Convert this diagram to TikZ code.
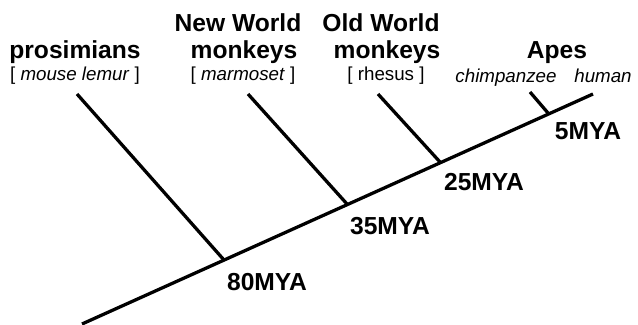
\documentclass[tikz,border=0pt]{standalone}
\usepackage{fontspec}
\setmainfont{Liberation Sans}
\usepackage{tikz}

\tikzset{
    branch/.style={draw=black, line width=2.8pt, solid, line cap=butt},
    grouplabel/.style={anchor=base, inner sep=0pt, font=\fontsize{21}{25}\selectfont\bfseries},
    specieslabel/.style={anchor=base, inner sep=0pt, font=\fontsize{16}{19}\selectfont},
    agelabel/.style={anchor=base, inner sep=0pt, font=\fontsize{21}{25}\selectfont\bfseries}
}

\begin{document}
\begin{tikzpicture}[x=0.03cm, y=-0.03cm]
        \useasboundingbox (0,0) rectangle (638,324);

        % main line and joints
        \coordinate (root) at (82,324);
        \coordinate (tiphuman) at (593,94);
        \coordinate (jprosim) at (224,260);
        \coordinate (jnew) at (347,204);
        \coordinate (jold) at (440,162);
        \coordinate (japes) at (548,113);

        % branch tips
        \coordinate (tipprosim) at (77,94);
        \coordinate (tipnew) at (248,94);
        \coordinate (tipold) at (378,94);
        \coordinate (tipchimp) at (530,92);

        \draw[branch] (root) -- (tiphuman);
        \draw[branch] (tipprosim) -- (jprosim);
        \draw[branch] (tipnew) -- (jnew);
        \draw[branch] (tipold) -- (jold);
        \draw[branch] (tipchimp) -- (japes);

        % group names
        \node[grouplabel] (prosim) at (75,58) {prosimians};
        \node[specieslabel] (lemur) at (75,80) {[ \textit{mouse lemur} ]};
        \node[grouplabel] (newA) at (238,31) {New World};
        \node[grouplabel] (newB) at (244,58) {monkeys};
        \node[specieslabel] (marmo) at (243,80) {[ \textit{marmoset} ]};
        \node[grouplabel] (oldA) at (381,31) {Old World};
        \node[grouplabel] (oldB) at (387,58) {monkeys};
        \node[specieslabel] (rhesus) at (386,80) {[ rhesus ]};
        \node[grouplabel] (apes) at (557,58) {Apes};
        \node[specieslabel] (chimp) at (506,82) {\textit{chimpanzee}};
        \node[specieslabel] (human) at (603,82) {\textit{human}};

        % divergence times
        \node[agelabel] (age5) at (588,139) {5MYA};
        \node[agelabel] (age25) at (484,190) {25MYA};
        \node[agelabel] (age35) at (390,234) {35MYA};
        \node[agelabel] (age80) at (267,290) {80MYA};
\end{tikzpicture}
\end{document}
